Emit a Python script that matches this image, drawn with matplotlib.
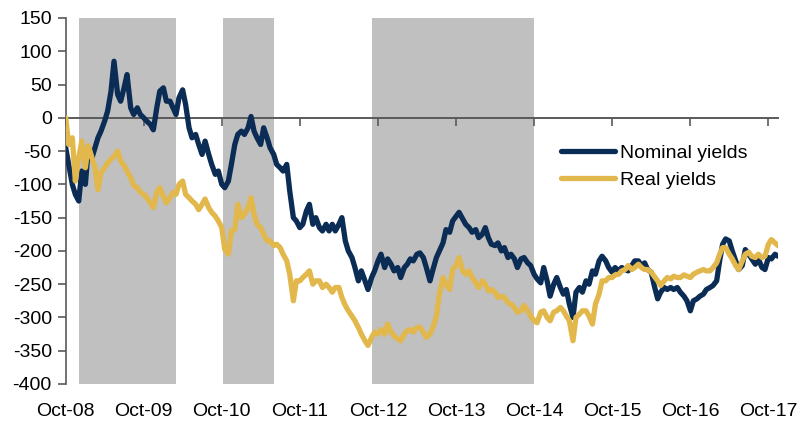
import matplotlib
matplotlib.use("Agg")
import matplotlib.pyplot as plt
import matplotlib.transforms as mtransforms
import pandas as pd

plt.rcParams['font.family'] = ['Liberation Sans', 'DejaVu Sans']
plt.rcParams['axes.unicode_minus'] = False

# semi-monthly observations, Oct 2008 - Nov 2017
dates = pd.date_range('2008-10-01', periods=220, freq='SMS')

nominal = [
    -45, -70, -100, -115, -125, -80, -100, -45, -60, -45,
    -30, -20, -5, 10, 40, 85, 35, 25, 45, 65,
    15, 5, 15, 5, 0, -5, -10, -18, 15, 40,
    45, 25, 25, 15, 5, 30, 42, 20, -15, -30,
    -25, -40, -55, -35, -55, -70, -85, -80, -100, -105,
    -95, -70, -40, -25, -20, -25, -15, 2, -20, -30,
    -40, -15, -30, -45, -55, -70, -75, -80, -70, -110,
    -150, -155, -165, -160, -140, -130, -160, -150, -165, -170,
    -160, -170, -160, -170, -160, -150, -185, -200, -210, -225,
    -245, -230, -245, -258, -240, -230, -215, -205, -225, -212,
    -220, -230, -225, -240, -225, -220, -212, -215, -205, -203,
    -210, -225, -245, -228, -210, -200, -188, -168, -172, -155,
    -148, -142, -152, -160, -165, -172, -168, -180, -175, -165,
    -180, -190, -192, -188, -200, -195, -210, -205, -212, -225,
    -212, -210, -218, -222, -235, -242, -248, -225, -245, -268,
    -250, -240, -255, -265, -258, -280, -300, -262, -255, -262,
    -245, -250, -230, -235, -215, -208, -215, -225, -232, -225,
    -230, -225, -228, -230, -222, -215, -215, -222, -218, -228,
    -232, -252, -272, -262, -255, -258, -255, -258, -255, -262,
    -268, -275, -290, -275, -272, -268, -265, -258, -255, -252,
    -245, -215, -190, -182, -185, -200, -215, -228, -222, -198,
    -205, -212, -220, -212, -225, -228, -210, -212, -205, -208,
]

real = [
    0, -40, -30, -95, -60, -35, -75, -42, -60, -75,
    -108, -82, -75, -68, -62, -58, -50, -65, -72, -80,
    -90, -102, -105, -112, -115, -120, -128, -135, -112, -105,
    -118, -128, -120, -112, -115, -100, -95, -115, -120, -125,
    -130, -138, -130, -122, -135, -142, -148, -155, -165, -198,
    -205, -170, -168, -130, -150, -145, -135, -120, -145, -160,
    -165, -175, -185, -185, -192, -190, -195, -205, -215, -235,
    -275, -245, -245, -240, -235, -230, -250, -245, -245, -255,
    -250, -255, -262, -255, -255, -270, -282, -290, -298, -305,
    -315, -325, -335, -342, -330, -322, -325, -318, -325, -310,
    -322, -328, -332, -335, -325, -320, -318, -322, -315, -315,
    -322, -330, -325, -315, -298, -265, -240, -250, -258, -228,
    -222, -210, -230, -235, -230, -240, -248, -255, -245, -250,
    -260, -258, -262, -270, -268, -270, -278, -280, -285, -292,
    -290, -282, -290, -298, -305, -308, -292, -290, -300, -305,
    -292, -290, -285, -290, -298, -305, -335, -300, -295, -290,
    -290, -298, -310, -280, -265, -245, -245, -240, -240, -236,
    -235, -230, -228, -222, -228, -225, -220, -225, -228, -228,
    -232, -238, -245, -252, -245, -240, -242, -238, -240, -240,
    -236, -238, -240, -235, -232, -230, -228, -230, -230, -225,
    -218, -205, -195, -195, -205, -212, -222, -228, -215, -205,
    -202, -208, -210, -205, -210, -208, -190, -183, -188, -192,
]

# shaded periods (start, end)
shade_starts = ['2008-12-01', '2010-10-05', '2012-09-01']
shade_ends = ['2010-03-01', '2011-06-01', '2014-10-01']

tick_dates = pd.date_range('2008-10-01', periods=10, freq='12MS')
tick_labels = ['Oct-08', 'Oct-09', 'Oct-10', 'Oct-11', 'Oct-12',
               'Oct-13', 'Oct-14', 'Oct-15', 'Oct-16', 'Oct-17']

series_labels = ['Nominal yields', 'Real yields']
navy = '#0B2C55'
gold = '#E2B84C'
axis_grey = '#5A5A5A'
FS = 14

fig = plt.figure(figsize=(7.99, 4.28), dpi=100)
ax = fig.add_axes([65.7 / 799, 44 / 428, (778 - 65.7) / 799, 366 / 428])

for s, e in zip(shade_starts, shade_ends):
    ax.axvspan(pd.Timestamp(s), pd.Timestamp(e), color='#C0C0C0', lw=0, zorder=1)

l1, = ax.plot(dates, nominal, color=navy, lw=3.8, zorder=3,
              solid_joinstyle='round', solid_capstyle='round')
l2, = ax.plot(dates, real, color=gold, lw=3.8, zorder=4,
              solid_joinstyle='round', solid_capstyle='round')

ax.set_xlim(pd.Timestamp('2008-10-01'), pd.Timestamp('2017-11-15'))
ax.set_ylim(-400, 150)
ax.set_yticks(range(-400, 151, 50))

for side in ['top', 'right']:
    ax.spines[side].set_visible(False)
ax.spines['bottom'].set_position(('data', 0))
ax.spines['bottom'].set_color(axis_grey)
ax.spines['bottom'].set_linewidth(1.4)
ax.spines['left'].set_color(axis_grey)
ax.spines['left'].set_linewidth(1.2)

ax.set_xticks(tick_dates)
ax.tick_params(axis='x', direction='out', length=6, width=1.2,
               color=axis_grey, labelbottom=False)
ax.tick_params(axis='y', direction='out', length=6, width=1.2,
               color=axis_grey, labelsize=FS, pad=4)

trans = mtransforms.blended_transform_factory(ax.transData, ax.transAxes)
for d, lab in zip(tick_dates, tick_labels):
    ax.text(d, -0.075, lab, transform=trans, ha='center', va='center',
            fontsize=FS, color='black')

ax.legend([l1, l2], series_labels, loc='upper left',
          bbox_to_anchor=(561 / 799, (428 - 144) / 428),
          bbox_transform=fig.transFigure, frameon=False, fontsize=FS,
          handlelength=2.78, handletextpad=0.26, labelspacing=0.5,
          borderpad=0, borderaxespad=0)

fig.savefig('out.png', dpi=100)
